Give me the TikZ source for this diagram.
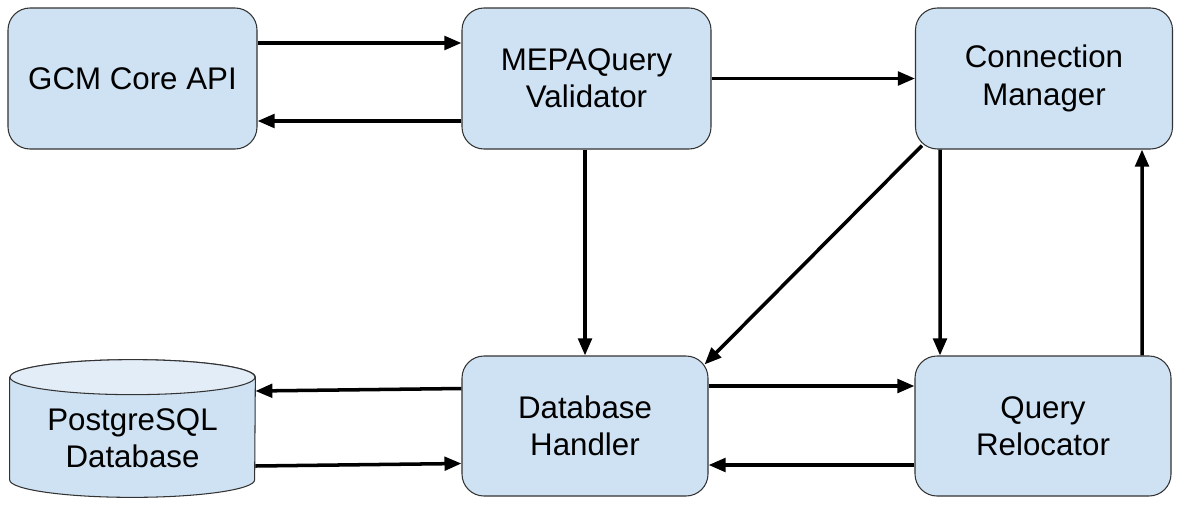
\documentclass[tikz,border=0pt]{standalone}
\usepackage{fontspec}
\setmainfont{Liberation Sans}
\usetikzlibrary{arrows.meta,calc}

\definecolor{boxblue}{HTML}{CFE2F3}
\definecolor{boxtop}{HTML}{E2EDF8}
\definecolor{boxline}{HTML}{333333}

\begin{document}
\begin{tikzpicture}[
  every node/.style={font=\fontsize{17.8}{21.3}\selectfont, align=center},
  block/.style={draw=boxline, line width=0.6pt, fill=boxblue, rounded corners=0.44cm, minimum height=2.82cm},
  link/.style={line width=2pt, -{Triangle[length=0.34cm,width=0.27cm]}}
]
\useasboundingbox (0,0) rectangle (23.62,10.12);

\node[block, minimum width=4.98cm] (gcm) at (2.65,8.55) {GCM Core API};
\node[block, minimum width=4.98cm] (mepa) at (11.73,8.55) {MEPAQuery\\Validator};
\node[block, minimum width=5.14cm] (conn) at (20.88,8.55) {Connection\\Manager};
\node[block, minimum width=4.92cm, minimum height=2.8cm] (dbh) at (11.70,1.60) {Database\\Handler};
\node[block, minimum width=5.12cm, minimum height=2.8cm] (qr) at (20.86,1.60) {Query\\Relocator};

% database cylinder
\node[minimum width=4.9cm, minimum height=2.74cm] (pg) at (2.65,1.55) {};
\draw[draw=boxline, line width=0.6pt, fill=boxblue]
  ($(pg.north west)+(0,-0.35)$) -- ($(pg.south west)+(0,0.35)$)
  arc (180:360:2.45cm and 0.35cm) -- ($(pg.north east)+(0,-0.35)$)
  arc (0:180:2.45cm and 0.35cm) -- cycle;
\draw[draw=boxline, line width=0.6pt, fill=boxtop]
  ($(pg.north)+(0,-0.35)$) ellipse (2.45cm and 0.35cm);
\node at ($(pg.center)+(0,-0.2)$) {PostgreSQL\\Database};

\draw[link] ([yshift=0.71cm]gcm.east) -- ([yshift=0.71cm]mepa.west);
\draw[link] ([yshift=-0.85cm]mepa.west) -- ([yshift=-0.85cm]gcm.east);
\draw[link] (mepa.east) -- (conn.west);
\draw[link] (mepa.south -| dbh.north) -- (dbh.north);
\draw[link] ($(conn.south west)+(0.14,0.08)$) -- ($(dbh.north east)+(-0.08,-0.18)$);
\draw[link] ([xshift=-2.08cm]conn.south) -- ([xshift=-2.06cm]qr.north);
\draw[link] ([xshift=1.98cm]qr.north) -- ([xshift=1.96cm]conn.south);
\draw[link] ([yshift=0.80cm]dbh.east) -- ([yshift=0.80cm]qr.west);
\draw[link] ([yshift=-0.78cm]qr.west) -- ([yshift=-0.78cm]dbh.east);
\draw[link] ([yshift=0.75cm]dbh.west) -- ([yshift=0.75cm]pg.east);
\draw[link] ([yshift=-0.75cm]pg.east) -- ([yshift=-0.75cm]dbh.west);
\end{tikzpicture}
\end{document}
